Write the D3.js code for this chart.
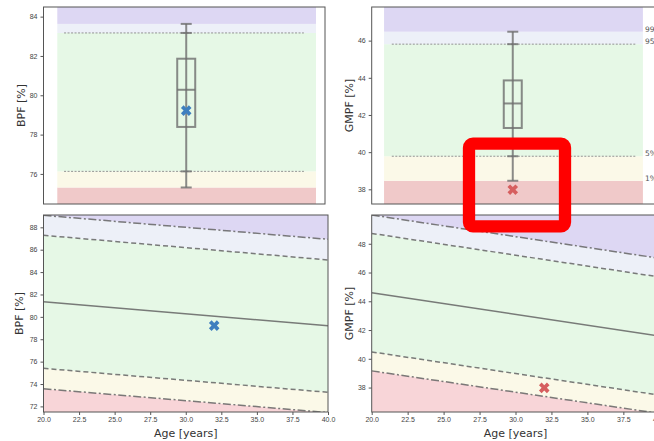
<!DOCTYPE html>
<html>
<head>
<meta charset="utf-8">
<script src="https://cdn.jsdelivr.net/npm/d3@7"></script>
<style>
body { margin: 0; background: #fff; }
svg { display: block; font-family: "DejaVu Sans", sans-serif; }
</style>
</head>
<body>
<div id="chart"></div>
<script>
// reference percentiles, order: 1%, 5%, 95%, 99%
var pctNames = ["1%", "5%", "95%", "99%"];
var bpfPct = [75.31, 76.13, 83.17, 83.63];
var gmpfPct = [38.46, 39.78, 45.81, 46.48];
// box: q1, median, q3
var bpfBox = [78.39, 80.28, 81.86];
var gmpfBox = [41.30, 42.62, 43.86];
var bpfPatient = 79.22;
var gmpfPatient = 37.98;
var patientAge = 32;

// normative curves over age
var ages = [20, 40];
var bpfP1 = [73.58, 71.45];
var bpfP5 = [75.40, 73.26];
var bpfP50 = [81.34, 79.20];
var bpfP95 = [87.29, 85.08];
var bpfP99 = [89.07, 86.93];
var gmpfP1 = [39.16, 36.20];
var gmpfP5 = [40.48, 37.47];
var gmpfP50 = [44.59, 41.58];
var gmpfP95 = [48.72, 45.69];
var gmpfP99 = [50.00, 46.99];

var bpfTicks = [76, 78, 80, 82, 84];
var gmpfTicks = [38, 40, 42, 44, 46];
var bpfAgeTicks = [72, 74, 76, 78, 80, 82, 84, 86, 88];
var gmpfAgeTicks = [38, 40, 42, 44, 46, 48];
var ageTicks = [20, 22.5, 25, 27.5, 30, 32.5, 35, 37.5, 40];

// bottom -> top: below 1%, 1-5%, 5-95%, 95-99%, above 99%
var bandColors = ["#f0c9c9", "#fbf9e8", "#e6f8e6", "#edf0f8", "#ddd7f3"];
var bandColorsAge = ["#f8d5d8", "#fbf9e8", "#e6f8e6", "#edf0f8", "#ddd7f3"];

var W = 654, H = 441;
var svg = d3.select("#chart").append("svg")
    .attr("width", W)
    .attr("height", H);
svg.append("rect").attr("width", W).attr("height", H).attr("fill", "#fff");

var clipId = 0;

function frame(g, x0, x1, y0, y1) {
    g.append("rect")
        .attr("x", x0).attr("y", y0)
        .attr("width", x1 - x0).attr("height", y1 - y0)
        .attr("fill", "none")
        .attr("stroke", "#555")
        .attr("stroke-width", 1);
}

function yAxis(g, y, ticks, x0, label, labelX) {
    var ax = g.append("g")
        .attr("transform", "translate(" + x0 + ",0)")
        .call(d3.axisLeft(y).tickValues(ticks).tickSize(3).tickPadding(3).tickFormat(d3.format("d")));
    ax.select(".domain").remove();
    ax.selectAll("line").attr("stroke", "#555");
    ax.selectAll("text").attr("fill", "#444").style("font-size", "7px");
    var r = y.range();
    g.append("text")
        .attr("transform", "translate(" + labelX + "," + ((r[0] + r[1]) / 2) + ") rotate(-90)")
        .attr("text-anchor", "middle")
        .attr("fill", "#333")
        .style("font-size", "11px")
        .text(label);
}

function marker(g, x, y, color) {
    g.append("path")
        .attr("d", d3.symbol().type(d3.symbolCross).size(70)())
        .attr("transform", "translate(" + x + "," + y + ") rotate(45)")
        .attr("fill", color);
}

function boxPanel(o) {
    var g = svg.append("g");
    var x = d3.scaleLinear().domain([0, 1]).range([o.x0, o.x1]);
    var y = d3.scaleLinear().domain(o.yDomain).range([o.y1, o.y0]);
    var edges = [o.yDomain[0]].concat(o.pct).concat([o.yDomain[1]]);

    g.selectAll(".band").data(bandColors).enter().append("rect")
        .attr("x", x(o.bandL))
        .attr("width", x(o.bandR) - x(o.bandL))
        .attr("y", function(d, i) { return y(edges[i + 1]); })
        .attr("height", function(d, i) { return y(edges[i]) - y(edges[i + 1]); })
        .attr("fill", function(d) { return d; });

    // dashed 5% / 95% lines
    g.selectAll(".pl").data([o.pct[1], o.pct[2]]).enter().append("line")
        .attr("x1", x(o.dashL)).attr("x2", x(o.dashR))
        .attr("y1", function(d) { return y(d); })
        .attr("y2", function(d) { return y(d); })
        .attr("stroke", "#888")
        .attr("stroke-width", 0.9)
        .attr("stroke-dasharray", "2,1.5");

    var cx = x(o.boxX), bw = 18, cw = 11;
    var st = "rgba(110,110,110,0.8)";
    g.append("line")
        .attr("x1", cx).attr("x2", cx)
        .attr("y1", y(o.pct[0])).attr("y2", y(o.pct[3]))
        .attr("stroke", st).attr("stroke-width", 2);
    g.selectAll(".cap").data(o.pct).enter().append("line")
        .attr("x1", cx - cw / 2).attr("x2", cx + cw / 2)
        .attr("y1", function(d) { return y(d); })
        .attr("y2", function(d) { return y(d); })
        .attr("stroke", st).attr("stroke-width", 2);
    g.append("rect")
        .attr("x", cx - bw / 2).attr("width", bw)
        .attr("y", y(o.box[2])).attr("height", y(o.box[0]) - y(o.box[2]))
        .attr("fill", "none").attr("stroke", st).attr("stroke-width", 2);
    g.append("line")
        .attr("x1", cx - bw / 2).attr("x2", cx + bw / 2)
        .attr("y1", y(o.box[1])).attr("y2", y(o.box[1]))
        .attr("stroke", st).attr("stroke-width", 2);

    marker(g, cx, y(o.patient), o.color);

    if (o.pctLabels) {
        g.selectAll(".plab").data(pctNames).enter().append("text")
            .attr("x", x(o.bandR) + 2)
            .attr("y", function(d, i) { return y(o.pct[i]); })
            .attr("fill", "#555")
            .style("font-size", "7.5px")
            .text(function(d) { return d; });
    }

    frame(g, o.x0, o.x1, o.y0, o.y1);
    yAxis(g, y, o.ticks, o.x0, o.label, o.labelX);
}

function agePanel(o) {
    var g = svg.append("g");
    var id = "clip" + (clipId++);
    svg.append("clipPath").attr("id", id).append("rect")
        .attr("x", o.x0).attr("y", o.y0)
        .attr("width", o.x1 - o.x0).attr("height", o.y1 - o.y0);
    var x = d3.scaleLinear().domain([20, 40]).range([o.x0, o.x1]);
    var y = d3.scaleLinear().domain(o.yDomain).range([o.y1, o.y0]);
    var inner = g.append("g").attr("clip-path", "url(#" + id + ")");

    var lo = ages.map(function() { return o.yDomain[0]; });
    var hi = ages.map(function() { return o.yDomain[1]; });
    var curves = [lo, o.p1, o.p5, o.p95, o.p99, hi];
    var area = d3.area()
        .x(function(d) { return x(d.a); })
        .y0(function(d) { return y(d.lo); })
        .y1(function(d) { return y(d.hi); });

    bandColorsAge.forEach(function(c, i) {
        var pts = ages.map(function(a, j) { return { a: a, lo: curves[i][j], hi: curves[i + 1][j] }; });
        inner.append("path").attr("d", area(pts)).attr("fill", c);
    });

    var line = d3.line()
        .x(function(d) { return x(d[0]); })
        .y(function(d) { return y(d[1]); });
    var lines = [
        { v: o.p1, dash: "8,2.5,2,2.5" },
        { v: o.p5, dash: "5,3" },
        { v: o.p50, dash: null },
        { v: o.p95, dash: "5,3" },
        { v: o.p99, dash: "8,2.5,2,2.5" }
    ];
    lines.forEach(function(l) {
        inner.append("path")
            .attr("d", line(ages.map(function(a, j) { return [a, l.v[j]]; })))
            .attr("fill", "none")
            .attr("stroke", "rgba(100,100,100,0.85)")
            .attr("stroke-width", 1.5)
            .attr("stroke-dasharray", l.dash);
    });

    marker(inner, x(patientAge), y(o.patient), o.color);

    frame(g, o.x0, o.x1, o.y0, o.y1);
    yAxis(g, y, o.ticks, o.x0, o.label, o.labelX);

    var ax = g.append("g")
        .attr("transform", "translate(0," + o.y1 + ")")
        .call(d3.axisBottom(x).tickValues(ageTicks).tickSize(3).tickPadding(2).tickFormat(d3.format(".1f")));
    ax.select(".domain").remove();
    ax.selectAll("line").attr("stroke", "#555");
    ax.selectAll("text").attr("fill", "#444").style("font-size", "7px");
    g.append("text")
        .attr("x", (o.x0 + x(40)) / 2)
        .attr("y", 437)
        .attr("text-anchor", "middle")
        .attr("fill", "#333")
        .style("font-size", "11px")
        .text("Age [years]");
}

boxPanel({
    x0: 43.5, x1: 325, y0: 7, y1: 204,
    yDomain: [74.47, 84.49], pct: bpfPct, box: bpfBox, patient: bpfPatient,
    bandL: 0.049, bandR: 0.968, dashL: 0.073, dashR: 0.925, boxX: 0.507,
    ticks: bpfTicks, label: "BPF [%]", labelX: 25, color: "#3f7fbf", pctLabels: false
});

boxPanel({
    x0: 371.7, x1: 659, y0: 7, y1: 204,
    yDomain: [37.21, 47.81], pct: gmpfPct, box: gmpfBox, patient: gmpfPatient,
    bandL: 0.043, bandR: 0.944, dashL: 0.07, dashR: 0.92, boxX: 0.491,
    ticks: gmpfTicks, label: "GMPF [%]", labelX: 353, color: "#d65f5f", pctLabels: true
});

agePanel({
    x0: 43.5, x1: 328, y0: 215, y1: 412,
    yDomain: [71.5, 89.1], p1: bpfP1, p5: bpfP5, p50: bpfP50, p95: bpfP95, p99: bpfP99,
    patient: bpfPatient, ticks: bpfAgeTicks, label: "BPF [%]", labelX: 23, color: "#3f7fbf"
});

agePanel({
    x0: 371.7, x1: 659.3, y0: 215, y1: 412,
    yDomain: [36.3, 50.0], p1: gmpfP1, p5: gmpfP5, p50: gmpfP50, p95: gmpfP95, p99: gmpfP99,
    patient: gmpfPatient, ticks: gmpfAgeTicks, label: "GMPF [%]", labelX: 353, color: "#d65f5f"
});

// red highlight annotation
svg.append("rect")
    .attr("x", 469).attr("y", 143.7)
    .attr("width", 96).attr("height", 82.6)
    .attr("rx", 4)
    .attr("fill", "none")
    .attr("stroke", "#ff0000")
    .attr("stroke-width", 12.3);
</script>
</body>
</html>
